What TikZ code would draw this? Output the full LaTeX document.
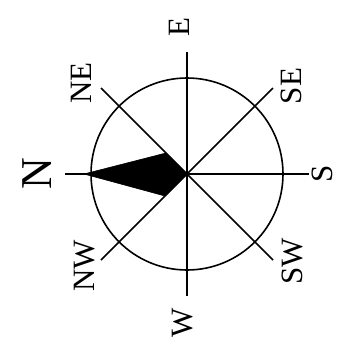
\documentclass[tikz,border=0pt]{standalone}
\usepackage{fontspec}
\setmainfont{Liberation Serif}
\begin{document}
\begin{tikzpicture}[x=1pt,y=-1pt,line width=1.6pt,
  lbl/.style={rotate=90,inner sep=0pt,font=\fontsize{31}{31}\selectfont},
  biglbl/.style={rotate=90,inner sep=0pt,font=\fontsize{44}{44}\selectfont}]
\useasboundingbox (0,0) rectangle (339,349);
\coordinate (c) at (187,174);
% arm ends
\coordinate (n) at (65,174);
\coordinate (s) at (309,174);
\coordinate (e) at (187,52);
\coordinate (w) at (187,296);
\coordinate (ne) at (101,88);
\coordinate (sw) at (273,260);
\coordinate (se) at (273,88);
\coordinate (nw) at (101,260);
% needle
\coordinate (tip) at (84,174);
\coordinate (nu) at (166,153);
\coordinate (nl) at (165,196);
\draw (c) circle[radius=96pt];
\draw (n) -- (s);
\draw (e) -- (w);
\draw (ne) -- (sw);
\draw (nw) -- (se);
\filldraw[line width=0.6pt,line join=round] (c) -- (nu) -- (tip) -- (nl) -- cycle;
% labels
\node[biglbl] (lN) at (37,174) {N};
\node[lbl] (lE) at (179,27) {E};
\node[lbl] (lNE) at (81,83) {NE};
\node[lbl] (lSE) at (291,86) {SE};
\node[lbl] (lS) at (322,174) {S};
\node[lbl] (lSW) at (292,261) {SW};
\node[lbl] (lW) at (183,323) {W};
\node[lbl] (lNW) at (85,266) {NW};
\end{tikzpicture}
\end{document}
